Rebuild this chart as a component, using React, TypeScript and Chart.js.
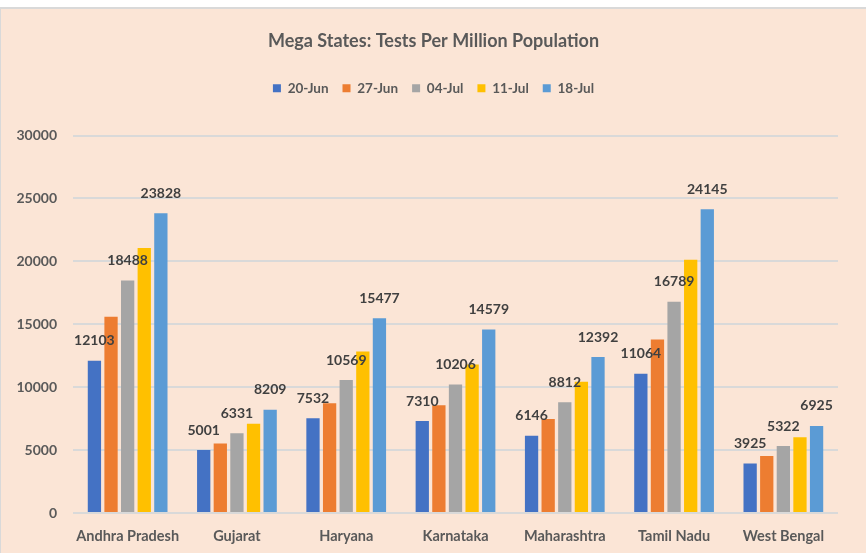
import React, { useEffect, useRef } from "react";
import { Chart, registerables } from "chart.js";

Chart.register(...registerables);

const categories = ["Andhra Pradesh", "Gujarat", "Haryana", "Karnataka", "Maharashtra", "Tamil Nadu", "West Bengal"];
const seriesNames = ["20-Jun", "27-Jun", "04-Jul", "11-Jul", "18-Jul"];
const jun20 = [12103, 5001, 7532, 7310, 6146, 11064, 3925];
const jun27 = [15600, 5520, 8730, 8570, 7480, 13800, 4540];
const jul04 = [18488, 6331, 10569, 10206, 8812, 16789, 5322];
const jul11 = [21070, 7090, 12840, 11810, 10430, 20140, 6030];
const jul18 = [23828, 8209, 15477, 14579, 12392, 24145, 6925];
const seriesColors = ["#4472C4", "#ED7D31", "#A5A5A5", "#FFC000", "#5B9BD5"];
const labelledSeries = [0, 2, 4];

const FONT = "Lato, 'Open Sans', sans-serif";

const legendSpacing = {
  id: "legendSpacing",
  beforeInit(chart: any) {
    const legend = chart.legend;
    if (!legend) return;
    const origFit = legend.fit;
    legend.fit = function () {
      origFit.call(this);
      this.height = 68;
    };
  },
};

const valueLabels = {
  id: "valueLabels",
  afterDatasetsDraw(chart: any) {
    const ctx = chart.ctx;
    ctx.save();
    ctx.font = `bold 14px ${FONT}`;
    ctx.fillStyle = "#404040";
    ctx.textAlign = "center";
    ctx.textBaseline = "bottom";
    labelledSeries.forEach((di) => {
      const meta = chart.getDatasetMeta(di);
      const data = chart.data.datasets[di].data as number[];
      meta.data.forEach((bar: any, i: number) => {
        ctx.fillText(String(data[i]), bar.x, bar.y - 13);
      });
    });
    ctx.restore();
  },
};

export default function App() {
  const ref = useRef<HTMLCanvasElement>(null);
  useEffect(() => {
    if (!ref.current) return;
    const all = [jun20, jun27, jul04, jul11, jul18];
    const chart = new Chart(ref.current, {
      type: "bar",
      data: {
        labels: categories,
        datasets: all.map((d, i) => ({
          label: seriesNames[i],
          data: d,
          backgroundColor: seriesColors[i],
          borderWidth: 0,
          categoryPercentage: 0.76,
          barPercentage: 0.8,
          yAxisID: "y",
        })),
      },
      options: {
        animation: false,
        responsive: false,
        maintainAspectRatio: false,
        layout: { padding: { left: 0, right: 0, top: 0, bottom: 0 } },
        plugins: {
          title: {
            display: true,
            text: "Mega States: Tests Per Million Population",
            color: "#595959",
            font: { family: FONT, size: 18, weight: "bold" },
            padding: { top: 21, bottom: 16 },
          },
          legend: {
            display: true,
            labels: {
              boxWidth: 8,
              boxHeight: 8,
              padding: 14,
              color: "#595959",
              font: { family: FONT, size: 13.5, weight: "bold" },
            },
          },
          tooltip: { enabled: false },
        },
        scales: {
          x: {
            grid: { display: false },
            border: { display: false },
            ticks: {
              color: "#595959",
              font: { family: FONT, size: 14.5, weight: "bold" },
              padding: 7,
              maxRotation: 0,
              autoSkip: false,
            },
            afterFit(scale: any) {
              scale.height = 40;
            },
          },
          y: {
            position: "left",
            min: 0,
            max: 30000,
            grid: { color: "#D9D9D9", lineWidth: 2, drawTicks: false },
            border: { display: false },
            ticks: {
              stepSize: 5000,
              color: "#595959",
              font: { family: FONT, size: 14, weight: "bold" },
              padding: 16,
              callback: (v: any) => String(v),
            },
            afterFit(scale: any) {
              scale.width = 72;
            },
          },
          yRight: {
            position: "right",
            display: true,
            min: 0,
            max: 30000,
            grid: { display: false },
            border: { display: false },
            ticks: { display: false },
            afterFit(scale: any) {
              scale.width = 28;
            },
          },
        },
      },
      plugins: [legendSpacing, valueLabels],
    });
    return () => chart.destroy();
  }, []);

  return (
    <div style={{ position: "fixed", left: 0, top: 0, width: 866, height: 553, background: "#ffffff" }}>
      <div
        style={{
          position: "absolute",
          left: 0,
          top: 7,
          width: 865,
          height: 544,
          background: "#FBE5D6",
          borderTop: "2px solid #D9D9D9",
          borderLeft: "1px solid #D9D9D9",
        }}
      >
        <canvas ref={ref} width={865} height={544} style={{ display: "block", width: 865, height: 544 }} />
      </div>
    </div>
  );
}
